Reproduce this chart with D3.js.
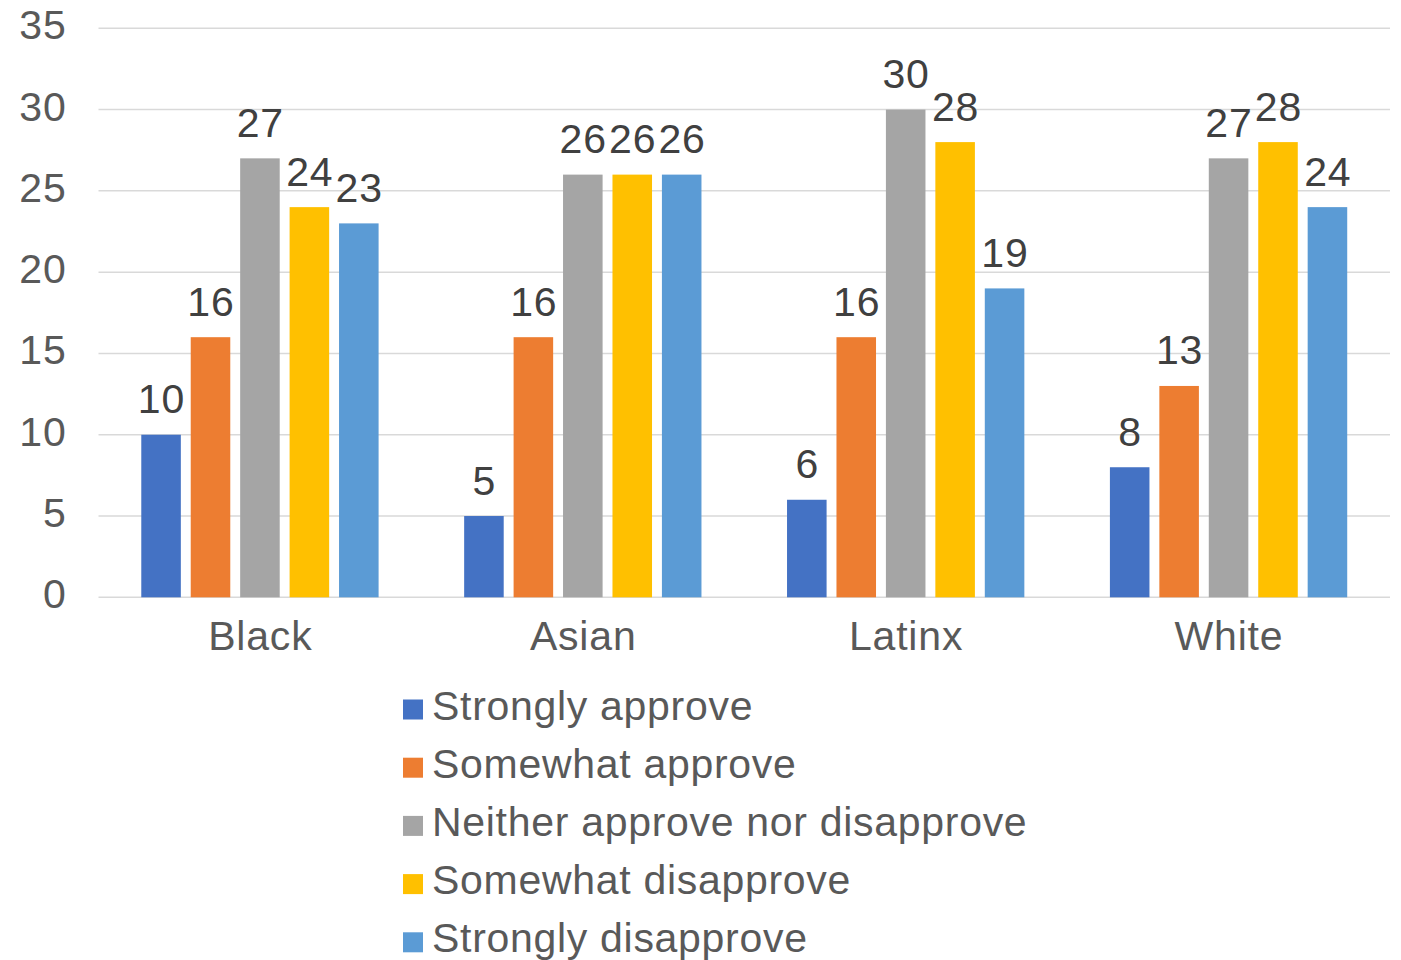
<!DOCTYPE html>
<html>
<head>
<meta charset="utf-8">
<script src="https://cdn.jsdelivr.net/npm/d3@7"></script>
<style>
  html, body { margin: 0; padding: 0; background: #fff; }
  svg { display: block; }
  text { font-family: "Liberation Sans", Arial, Helvetica, sans-serif; }
</style>
</head>
<body>
<svg id="chart" width="1401" height="960"></svg>
<script>
const categories = ["Black", "Asian", "Latinx", "White"];
const seriesNames = ["Strongly approve", "Somewhat approve", "Neither approve nor disapprove", "Somewhat disapprove", "Strongly disapprove"];
const seriesColors = ["#4472C4", "#ED7D31", "#A5A5A5", "#FFC000", "#5B9BD5"];
const stronglyApprove = [10, 5, 6, 8];
const somewhatApprove = [16, 16, 16, 13];
const neither = [27, 26, 30, 27];
const somewhatDisapprove = [24, 26, 28, 28];
const stronglyDisapprove = [23, 26, 19, 24];
const yTicks = [0, 5, 10, 15, 20, 25, 30, 35];

const seriesValues = [stronglyApprove, somewhatApprove, neither, somewhatDisapprove, stronglyDisapprove];

const svg = d3.select("#chart");
const plotLeft = 98.5, plotRight = 1390, yTop = 28.3, yBottom = 597.3;
const FS = 41;

const y = d3.scaleLinear().domain([0, 35]).range([yBottom, yTop]);
const x0 = d3.scaleBand().domain(categories).range([plotLeft, plotRight])
  .paddingInner(0.265).paddingOuter(0.1325);
const x1 = d3.scaleBand().domain(d3.range(seriesNames.length)).range([0, x0.bandwidth()])
  .paddingInner(0.2).paddingOuter(0);

// gridlines
svg.append("g").selectAll("line").data(yTicks).join("line")
  .attr("x1", plotLeft).attr("x2", plotRight)
  .attr("y1", d => y(d)).attr("y2", d => y(d))
  .attr("stroke", "#d9d9d9").attr("stroke-width", 1.5);

// y tick labels
svg.append("g").selectAll("text").data(yTicks).join("text")
  .attr("x", 66.5).attr("y", d => y(d) + 11)
  .attr("text-anchor", "end")
  .attr("font-size", FS).attr("fill", "#595959")
  .attr("letter-spacing", 0.8)
  .text(d => d);

// bars
const groups = svg.append("g").selectAll("g").data(categories).join("g")
  .attr("transform", d => `translate(${x0(d)},0)`);

groups.each(function(cat, ci) {
  const g = d3.select(this);
  const vals = seriesValues.map((s, si) => ({ si, v: s[ci] }));
  g.selectAll("rect").data(vals).join("rect")
    .attr("x", d => x1(d.si)).attr("width", x1.bandwidth())
    .attr("y", d => y(d.v)).attr("height", d => y(0) - y(d.v))
    .attr("fill", d => seriesColors[d.si]);
  g.selectAll("text").data(vals).join("text")
    .attr("x", d => x1(d.si) + x1.bandwidth() / 2 + 0.4)
    .attr("y", d => y(d.v) - 21.5)
    .attr("text-anchor", "middle")
    .attr("font-size", FS).attr("fill", "#404040")
    .attr("letter-spacing", 0.8)
    .text(d => d.v);
});

// category labels
svg.append("g").selectAll("text").data(categories).join("text")
  .attr("x", d => x0(d) + x0.bandwidth() / 2 + 0.4).attr("y", 650)
  .attr("text-anchor", "middle")
  .attr("font-size", FS).attr("fill", "#595959")
  .attr("letter-spacing", 0.8)
  .text(d => d);

// legend
const leg = svg.append("g").selectAll("g").data(seriesNames).join("g")
  .attr("transform", (d, i) => `translate(403, ${719.5 + i * 58.2})`);
leg.append("rect").attr("x", 0).attr("y", -20).attr("width", 20).attr("height", 20)
  .attr("fill", (d, i) => seriesColors[i]);
leg.append("text").attr("x", 29).attr("y", 0)
  .attr("font-size", FS).attr("fill", "#595959")
  .attr("letter-spacing", 0.7)
  .text(d => d);
</script>
</body>
</html>
